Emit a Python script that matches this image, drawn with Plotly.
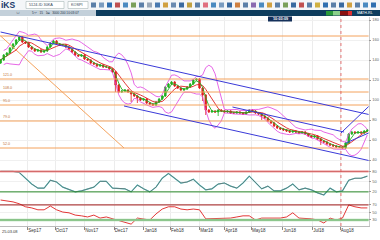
import plotly.graph_objects as go
from plotly.subplots import make_subplots
import pandas as pd

# ---------------- data ----------------
close = [140,145,147,152,156,160,163,158,157,153,
         151,149,150,148,149,153,157,159,156,155,
         155,153,151,148,145,144,145,141,140,137,
         136,134,135,133,133,131,128,115,108,109,
         110,108,106,104,102,100,101,97,96,95,
         98,101,104,113,116,118,114,112,110,111,
         113,116,120,121,112,105,90,88,89,88,
         90,89,88,89,87,87,88,87,86,88,
         90,89,87,86,84,82,79,77,74,72,
         71,70,69,68,69,68,67,68,66,64,
         63,64,61,59,58,56,55,54,53,53,
         52,57,66,68,67,68,67,69,70]
first_open = 137
low_spikes = {37: 6, 42: 7, 44: 4, 65: 5, 66: 4, 70: 3, 84: 3, 103: 3}

osc1 = [80,80,80,77,60,43,31,31,54,49, 34,26,20,23,29,34,51,51,31,29,
        29,20,40,29,20,34,60,74,60,46, 49,57,40,26,29,43,46,37,31,46,
        66,46,29,37,23,23,31,43,26,31, 26,17,11,31,20,23,54,60,60,66]
osc2 = [83,81,78,73,65,62,57,57,67,57, 51,49,43,41,38,43,35,38,33,27,
        22,19,35,33,30,46,59,65,65,59, 57,59,57,33,33,35,35,35,38,41,
        41,30,35,35,33,35,38,49,35,35, 33,30,22,35,30,35,70,65,62,62]

levels = [164, 121, 108, 95, 79, 52]
month_pos = [8.6, 17.5, 27, 36.5, 46, 54.6, 64, 72, 80.6, 90.8, 100.3, 109.2]
month_lbl = ["Sep17","Oct17","Nov17","Dec17","Jan18","Feb18","Mar18",
             "Apr18","May18","Jun18","Jul18","Aug18"]

# trend lines: (x0, y0, x1, y1) in index / price units
blue_lines = [(0, 168, 120.6, 84), (39.7, 94, 120.6, 38), (74.6, 93, 110.5, 68),
              (109.5, 67, 120.6, 100), (111.1, 57, 120.6, 70)]
orange_diag = (0, 164, 39.7, 52)
marker_idx = 109.5

# ---------------- derived ----------------
idx = list(range(len(close)))
opens = [first_open] + close[:-1]
highs = [max(o, c) + 1 for o, c in zip(opens, close)]
lows = [min(o, c) - 1 - low_spikes.get(i, 0) for i, (o, c) in enumerate(zip(opens, close))]
s = pd.Series(close, dtype=float)
ma_fast = s.rolling(3, min_periods=1).mean()
ma_slow = s.rolling(6, min_periods=1).mean()
mid = s.rolling(7, min_periods=2).mean()
sd = s.rolling(7, min_periods=2).std()
bb_up = mid + 2 * sd
bb_dn = mid - 2 * sd
osc_idx = list(range(0, 2 * len(osc1), 2))

fig = make_subplots(rows=3, cols=1, shared_xaxes=True, vertical_spacing=0)

fig.add_trace(go.Scatter(x=idx, y=bb_up, mode="lines", line=dict(color="#e040e0", width=0.8)), 1, 1)
fig.add_trace(go.Scatter(x=idx, y=bb_dn, mode="lines", line=dict(color="#e040e0", width=0.8)), 1, 1)
fig.add_trace(go.Scatter(x=idx, y=ma_slow, mode="lines", line=dict(color="#e02020", width=0.9)), 1, 1)
fig.add_trace(go.Scatter(x=idx, y=ma_fast, mode="lines", line=dict(color="#20b020", width=0.9)), 1, 1)
fig.add_trace(go.Candlestick(x=idx, open=opens, high=highs, low=lows, close=close,
                             increasing=dict(line=dict(color="#22b022", width=0.8), fillcolor="#22b022"),
                             decreasing=dict(line=dict(color="#e02020", width=0.8), fillcolor="#e02020"),
                             whiskerwidth=0), 1, 1)

fig.add_trace(go.Scatter(x=osc_idx, y=osc1, mode="lines", line=dict(color="#48c8c8", width=1.2)), 2, 1)
fig.add_trace(go.Scatter(x=osc_idx, y=osc1, mode="lines", line=dict(color="#6a6a6a", width=0.8)), 2, 1)
fig.add_trace(go.Scatter(x=osc_idx, y=osc2, mode="lines", line=dict(color="#e02020", width=0.9)), 3, 1)

H = 240.0
def py(p):
    return 1 - p / H

XD = 0.97
fig.update_layout(
    width=380, height=240, margin=dict(l=0, r=0, t=0, b=0),
    paper_bgcolor="white", plot_bgcolor="white", showlegend=False,
    font=dict(family="Liberation Sans, Arial", size=5, color="#444"),
)
for ax in ["xaxis", "xaxis2", "xaxis3"]:
    fig.layout[ax].update(domain=[0, XD], range=[-0.2, 118.4], showgrid=True,
                          gridcolor="#ececec", gridwidth=0.6, tickvals=month_pos,
                          rangeslider=dict(visible=False), zeroline=False,
                          showline=False, automargin=False)
fig.layout.xaxis3.update(ticktext=month_lbl, ticks="outside", ticklen=3, tickcolor="#888",
                         ticklabelposition="outside right", tickfont=dict(size=4.5, color="#333"),
                         showline=True, linecolor="#bbb", linewidth=0.6)
fig.layout.yaxis.update(domain=[py(168), py(17)], range=[32, 183], tickvals=[40, 60, 80, 100, 120, 140, 160, 180])
fig.layout.yaxis2.update(domain=[py(197), py(168)], range=[5, 90], tickvals=[20, 50, 80])
fig.layout.yaxis3.update(domain=[py(226), py(197)], range=[14, 91], tickvals=[30, 50, 70])
for ax in ["yaxis", "yaxis2", "yaxis3"]:
    fig.layout[ax].update(side="right", showgrid=True, gridcolor="#f0f0f0", gridwidth=0.6,
                          ticks="outside", ticklen=2, tickcolor="#999", zeroline=False,
                          tickfont=dict(size=4, color="#666"), automargin=False,
                          showline=True, linecolor="#ccc", linewidth=0.6)

shapes = []
for lv in levels:
    shapes.append(dict(type="line", xref="x domain", yref="y", x0=0, x1=1, y0=lv, y1=lv,
                       line=dict(color="#f4a25c", width=1)))
for (x0, y0, x1, y1) in blue_lines:
    shapes.append(dict(type="line", xref="x", yref="y", x0=x0, y0=y0, x1=x1, y1=y1,
                       line=dict(color="#3a3ad8", width=1)))
x0, y0, x1, y1 = orange_diag
shapes.append(dict(type="line", xref="x", yref="y", x0=x0, y0=y0, x1=x1, y1=y1,
                   line=dict(color="#f4a25c", width=1)))
# oscillator reference lines
shapes.append(dict(type="line", xref="x2 domain", yref="y2", x0=0, x1=1, y0=80, y1=80, line=dict(color="#f0a0a0", width=2)))
shapes.append(dict(type="line", xref="x2 domain", yref="y2", x0=0, x1=1, y0=80, y1=80, line=dict(color="#c04040", width=0.6)))
shapes.append(dict(type="line", xref="x2 domain", yref="y2", x0=0, x1=1, y0=20, y1=20, line=dict(color="#2a8a2a", width=1)))
shapes.append(dict(type="line", xref="x3 domain", yref="y3", x0=0, x1=1, y0=70, y1=70, line=dict(color="#a01818", width=1)))
shapes.append(dict(type="line", xref="x3 domain", yref="y3", x0=0, x1=1, y0=30, y1=30, line=dict(color="#a8d8a8", width=2.5)))
shapes.append(dict(type="line", xref="x3 domain", yref="y3", x0=0, x1=1, y0=30, y1=30, line=dict(color="#4a9a4a", width=0.6)))
# vertical marker
shapes.append(dict(type="line", xref="x", yref="paper", x0=marker_idx, x1=marker_idx, y0=py(226), y1=py(17),
                   line=dict(color="#e05050", width=0.8, dash="dot")))

# toolbar and header bars (paper coords; margin is zero so paper = page)
def rect(x0, y0, x1, y1, fill, line=None):
    return dict(type="rect", xref="paper", yref="paper", x0=x0 / 380, x1=x1 / 380,
                y0=py(y1), y1=py(y0), fillcolor=fill, line=dict(width=0.5 if line else 0, color=line or fill))

shapes.append(rect(0, 0, 380, 10, "#f4f6f8"))
shapes.append(rect(0, 10, 96, 16, "#c3d0da"))
shapes.append(rect(96, 10, 380, 16, "#0e3d5e"))
shapes.append(rect(26, 1.5, 64, 8.5, "white", "#9aa"))
shapes.append(rect(68, 1.5, 88, 8.5, "white", "#9aa"))
icon_cols = ["#5b7fa8", "#7a9cc0", "#2f6fb0", "#c05050", "#4a8ac0", "#7aa05a", "#5b7fa8", "#9aa8b8",
             "#4a7ab0", "#d0a040", "#6a8ab0", "#3a6aa0", "#c0a040", "#5b7fa8", "#e07080", "#4a8ac0",
             "#7a9cc0", "#3a6aa0", "#d08040", "#5b7fa8", "#8a6ab0", "#4a8ac0", "#d0a040", "#5b7fa8",
             "#7aa05a", "#3a6aa0", "#c05050", "#5b7fa8", "#d0b040", "#2f6fb0", "#5b7fa8", "#3a6aa0",
             "#d0a040", "#5b7fa8", "#4a8ac0", "#2f6fb0"]
for k, c in enumerate(icon_cols):
    xx = 91 + k * 8
    if xx > 376:
        break
    shapes.append(rect(xx, 2.5, xx + 5, 7.5, c))
shapes.append(rect(326, 11, 333, 15.5, "#2a9a3a"))
shapes.append(rect(333, 11, 340, 15.5, "#8ad08a"))
shapes.append(rect(340, 11, 348, 15.5, "#8a1010"))
shapes.append(rect(348, 11, 352, 15.5, "#e03030"))
shapes.append(rect(268, 16.5, 292, 21.5, "#14305a"))
fig.update_layout(shapes=shapes)

ann = []
def txt(x, y, t, size=5, color="#333", bold=False, anchor="left"):
    ann.append(dict(xref="paper", yref="paper", x=x / 380, y=py(y), text=("<b>%s</b>" % t) if bold else t,
                    showarrow=False, xanchor=anchor, yanchor="middle",
                    font=dict(size=size, color=color, family="Liberation Sans, Arial")))

txt(-1, 5, "iKS", 8.5, "#1a3a6a", True)
txt(27, 5, "5124-ID 30KA", 3.8, "#345")
txt(69, 5, "KOSPI", 3.8, "#345")
txt(14, 13, "ㅁ", 3.5, "#234")
txt(30, 13, "5분   15   1일  3000 200 10:03:07", 3.2, "#234")
txt(355, 13.2, "MATH-RL", 3.6, "white")
txt(280, 19, "10:03:09", 3.8, "white", True, "center")
txt(0, 231, "25.03.08", 4, "#333")
for lv in levels[1:]:
    ann.append(dict(xref="paper", yref="y", x=0.003, y=lv, text="%.1f" % lv, showarrow=False,
                    xanchor="left", yanchor="bottom", font=dict(size=3.6, color="#c07030")))
fig.update_layout(annotations=ann)

fig.write_html("out.html")
